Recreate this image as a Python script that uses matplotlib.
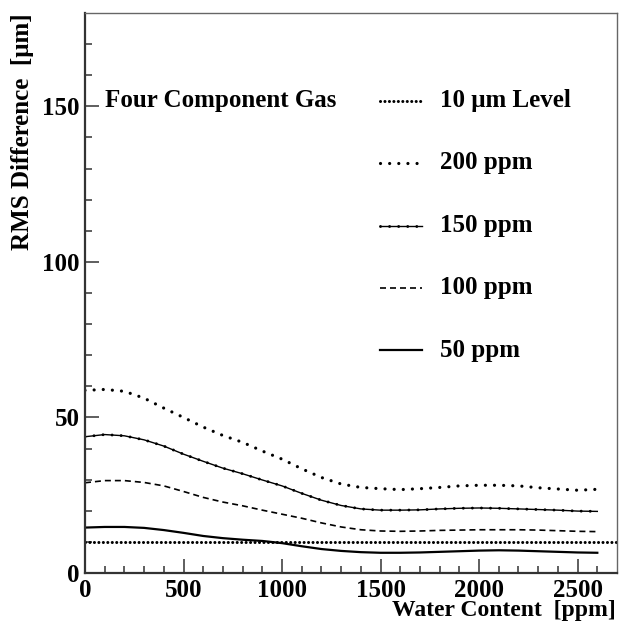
import matplotlib
matplotlib.use("Agg")
import matplotlib.pyplot as plt

# RMS difference vs water content for the four component gas mixture
water_ppm = [0, 100, 200, 300, 400, 500, 600, 700, 800, 900, 1000, 1100, 1200,
             1300, 1400, 1500, 1600, 1700, 1800, 1900, 2000, 2100, 2200, 2300,
             2400, 2500, 2600]

rms_200 = [58.7, 59.0, 58.4, 56.2, 53.0, 50.0, 46.9, 44.2, 42.0, 39.2, 36.6,
           33.5, 30.7, 28.6, 27.5, 27.1, 26.8, 27.1, 27.5, 28.0, 28.2, 28.2,
           28.0, 27.4, 27.0, 26.6, 26.9]
rms_150 = [43.8, 44.5, 44.1, 42.8, 40.8, 38.2, 35.9, 33.7, 31.9, 29.9, 28.0,
           25.6, 23.4, 21.7, 20.6, 20.2, 20.2, 20.3, 20.6, 20.8, 20.9, 20.8,
           20.6, 20.4, 20.2, 19.9, 19.8]
rms_100 = [29.0, 29.7, 29.7, 29.1, 28.0, 26.2, 24.3, 22.8, 21.6, 20.2, 18.9,
           17.6, 16.1, 14.8, 13.9, 13.5, 13.4, 13.5, 13.7, 13.8, 13.9, 13.9,
           13.9, 13.8, 13.6, 13.4, 13.3]
rms_50 = [14.6, 14.8, 14.8, 14.5, 13.8, 12.9, 11.9, 11.2, 10.7, 10.3, 9.6,
          8.6, 7.7, 7.1, 6.7, 6.5, 6.5, 6.6, 6.8, 7.0, 7.2, 7.3, 7.2, 7.0,
          6.8, 6.6, 6.5]
level_um = 10

legend_labels = ["10 \u03bcm Level", "200 ppm", "150 ppm", "100 ppm", "50 ppm"]

plt.rcParams['font.family'] = ['Liberation Serif', 'DejaVu Serif']
plt.rcParams['font.weight'] = 'bold'
FS = 18

fig = plt.figure(figsize=(6.19, 6.25), dpi=100)
ax = fig.add_axes([0.1373, 0.0832, 0.8595, 0.896])

# line styles for each series
st_level = dict(color='black', lw=2.2, linestyle=(0, (0.01, 1.45)), dash_capstyle='round')
st_200 = dict(color='black', lw=2.3, linestyle=(0, (0.01, 2.85)), dash_capstyle='round')
st_150_line = dict(color='black', lw=1.0)
st_150_dots = dict(color='black', lw=2.1, linestyle=(0, (0.01, 3.1)), dash_capstyle='round')
st_100 = dict(color='black', lw=1.2, linestyle=(0, (3.6, 2.4)))
st_50 = dict(color='black', lw=1.6)

ax.axhline(level_um, **st_level)
ax.plot(water_ppm, rms_200, **st_200)
ax.plot(water_ppm, rms_150, **st_150_line)
ax.plot(water_ppm, rms_150, **st_150_dots)
ax.plot(water_ppm, rms_100, **st_100)
ax.plot(water_ppm, rms_50, **st_50)

ax.set_xlim(0, 2700)
ax.set_ylim(0, 180)
ax.set_xticks([0, 500, 1000, 1500, 2000, 2500])
ax.set_xticks(range(0, 2700, 100), minor=True)
ax.set_yticks([0, 50, 100, 150])
ax.set_yticks(range(0, 180, 10), minor=True)
ax.tick_params(which='both', direction='in', top=False, right=False,
               labelsize=FS, width=1.1, color='#333333')
ax.tick_params(which='major', length=10, pad=4)
ax.tick_params(which='minor', length=5)
for lab in ax.get_xticklabels() + ax.get_yticklabels():
    lab.set_fontweight('bold')

for side in ['left', 'bottom']:
    ax.spines[side].set_linewidth(1.6)
    ax.spines[side].set_color('#333333')
for side in ['top', 'right']:
    ax.spines[side].set_linewidth(1.0)
    ax.spines[side].set_color('#666666')

ax.set_ylabel("RMS Difference  [\u03bcm]", fontsize=FS, fontweight='bold', loc='top')
ax.yaxis.set_label_coords(-0.096, 1.0)
ax.set_xlabel("Water Content  [ppm]", fontsize=17, fontweight='bold', loc='right')
ax.xaxis.set_label_coords(0.997, -0.048)

# key in the upper part of the frame
ax.text(0.038, 0.843, "Four Component Gas", transform=ax.transAxes,
        fontsize=FS, fontweight='bold', va='center', ha='left')
row_y = [0.843, 0.733, 0.620, 0.509, 0.398]
styles = [[st_level], [st_200], [st_150_line, st_150_dots], [st_100], [st_50]]
for y, lab, sty in zip(row_y, legend_labels, styles):
    for s in sty:
        ax.plot([0.555, 0.633], [y, y], transform=ax.transAxes, **s)
    ax.text(0.667, y, lab, transform=ax.transAxes, fontsize=FS,
            fontweight='bold', va='center', ha='left')

fig.savefig("out.png", dpi=100)
